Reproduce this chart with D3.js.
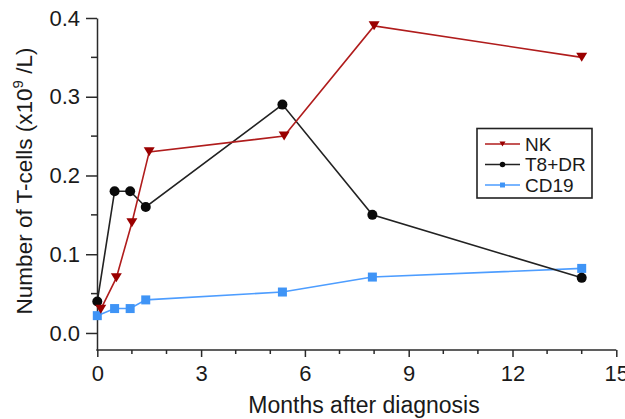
<!DOCTYPE html>
<html>
<head>
<meta charset="utf-8">
<script src="https://cdn.jsdelivr.net/npm/d3@7"></script>
<style>
  body { margin: 0; background: #fff; }
  text { font-family: "Liberation Sans", Arial, sans-serif; fill: #1a1a1a; }
</style>
</head>
<body>
<div id="chart"></div>
<script>
// data
var nkMonths  = [0.1, 0.55, 1.0, 1.5, 5.4, 8.0, 14.0];
var nkValues  = [0.03, 0.07, 0.14, 0.23, 0.25, 0.39, 0.35];
var t8Months  = [0.0, 0.5, 0.95, 1.4, 5.35, 7.95, 14.0];
var t8Values  = [0.04, 0.18, 0.18, 0.16, 0.29, 0.15, 0.07];
var cdMonths  = [0.0, 0.5, 0.95, 1.4, 5.35, 7.95, 14.0];
var cdValues  = [0.022, 0.031, 0.031, 0.042, 0.052, 0.071, 0.082];
var seriesNames = ["NK", "T8+DR", "CD19"];
var xTicks = [0, 3, 6, 9, 12, 15];
var yTicks = [0.0, 0.1, 0.2, 0.3, 0.4];

var width = 625, height = 419;

var svg = d3.select("#chart").append("svg")
    .attr("width", width)
    .attr("height", height);

var x = d3.scaleLinear().domain([0, 15]).range([97.3, 616.3]);
var y = d3.scaleLinear().domain([-0.022, 0.4]).range([350.3, 18]);

var axisColor = "#2a2a2a";

// y axis
var yAxis = svg.append("g")
    .attr("transform", "translate(97,0)")
    .call(d3.axisLeft(y).tickValues(yTicks).tickSize(11).tickSizeOuter(0)
        .tickFormat(d3.format(".1f")).tickPadding(6));
yAxis.selectAll(".tick")
    .data([0.05, 0.15, 0.25, 0.35], d => d).enter()
    .append("line")
    .attr("x1", -6).attr("x2", 0)
    .attr("y1", d => y(d)).attr("y2", d => y(d));

// x axis
var xAxis = svg.append("g")
    .attr("transform", "translate(0,350)")
    .call(d3.axisBottom(x).tickValues(xTicks).tickSize(7).tickSizeOuter(0)
        .tickFormat(d3.format("d")).tickPadding(8));
xAxis.append("g").selectAll("line")
    .data(d3.range(0, 16).filter(d => d % 3 != 0))
    .enter().append("line")
    .attr("x1", d => x(d)).attr("x2", d => x(d))
    .attr("y1", 0).attr("y2", 4);

svg.selectAll(".domain, .tick line, g line")
    .attr("stroke", axisColor)
    .attr("stroke-width", 1.5);
svg.selectAll(".tick text")
    .style("font-size", "22px")
    .attr("fill", "#1a1a1a");
xAxis.select(".domain").attr("d", "M96.3,0H616.3");

// axis titles
svg.append("text")
    .attr("x", 364)
    .attr("y", 413)
    .style("font-size", "23px")
    .style("text-anchor", "middle")
    .text("Months after diagnosis");

var yTitle = svg.append("text")
    .attr("transform", "translate(32,181) rotate(-90)")
    .style("font-size", "22.5px")
    .style("text-anchor", "middle");
yTitle.append("tspan").text("Number of T-cells (x10");
yTitle.append("tspan").attr("dy", -9).style("font-size", "15px").text("9");
yTitle.append("tspan").attr("dy", 9).text(" /L)");

// series
var series = [
  {name: seriesNames[0], xs: nkMonths, ys: nkValues, line: "#b01c1c", fill: "#9a0000", shape: "tri"},
  {name: seriesNames[1], xs: t8Months, ys: t8Values, line: "#222", fill: "#0a0a0a", shape: "circle"},
  {name: seriesNames[2], xs: cdMonths, ys: cdValues, line: "#4d9dff", fill: "#3f94f6", shape: "square"}
];

var line = d3.line().x(d => x(d[0])).y(d => y(d[1]));

function marker(g, shape, fill, cx, cy, s) {
  if (shape == "tri") {
    g.append("path")
      .attr("d", `M${cx - 5.5*s},${cy - 4.5*s}L${cx + 5.5*s},${cy - 4.5*s}L${cx},${cy + 4.5*s}Z`)
      .attr("fill", fill);
  } else if (shape == "circle") {
    g.append("circle").attr("cx", cx).attr("cy", cy).attr("r", 5 * s).attr("fill", fill);
  } else {
    g.append("rect")
      .attr("x", cx - 4.5*s).attr("y", cy - 4.5*s)
      .attr("width", 9*s).attr("height", 9*s)
      .attr("fill", fill);
  }
}

// draw CD19 first, then T8+DR, then NK
[2, 1, 0].forEach(i => {
  var s = series[i];
  var pts = s.xs.map((m, j) => [m, s.ys[j]]);
  var g = svg.append("g");
  g.append("path")
    .attr("d", line(pts))
    .attr("fill", "none")
    .attr("stroke", s.line)
    .attr("stroke-width", 1.6);
  pts.forEach(p => marker(g, s.shape, s.fill, x(p[0]), y(p[1]), 1));
});

// legend
var legend = svg.append("g");
legend.append("rect")
    .attr("x", 477).attr("y", 128.5)
    .attr("width", 115).attr("height", 69.5)
    .attr("fill", "#fff")
    .attr("stroke", "#222")
    .attr("stroke-width", 1.6);
series.forEach((s, i) => {
  var ly = 144 + i * 20.5;
  legend.append("line")
    .attr("x1", 485).attr("x2", 520)
    .attr("y1", ly).attr("y2", ly)
    .attr("stroke", s.line)
    .attr("stroke-width", 1.3);
  marker(legend, s.shape, s.fill, 502.5, ly, 0.55);
  legend.append("text")
    .attr("x", 525)
    .attr("y", ly)
    .attr("dy", "0.36em")
    .style("font-size", "19px")
    .text(s.name);
});
</script>
</body>
</html>
